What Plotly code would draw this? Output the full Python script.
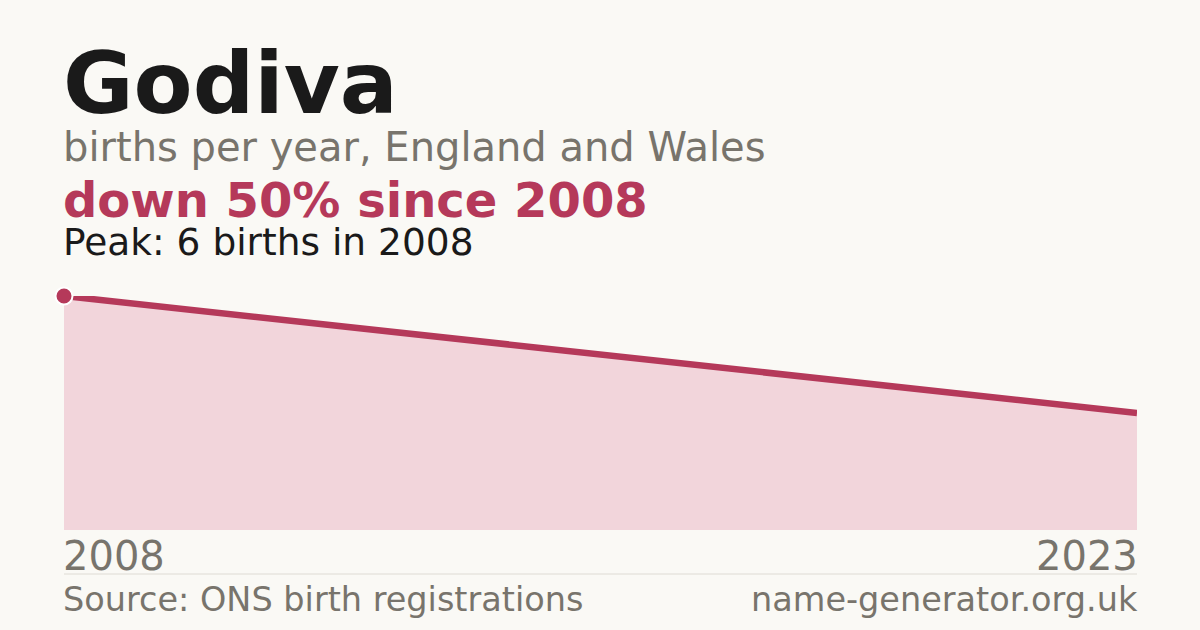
import plotly.graph_objects as go

name = "Godiva"
years = [2008, 2023]
births = [6, 3]

BG = "#faf9f5"
RED = "#b5395a"
FILL = "#f2d5db"
GREY = "#78746c"
INK = "#1a1a1a"
FONT = "DejaVu Sans"

W, H = 1200, 630
L, R, T, B = 64, 63, 296, 100
pw, ph = W - L - R, H - T - B
PAD = 3 / pw  # annotation inner padding, in paper units


def py(y):
    # pixel row -> paper y
    return (H - B - y) / ph


peak = max(births)
peak_year = years[births.index(peak)]
change = round((births[-1] - births[0]) / births[0] * 100)

fig = go.Figure()
fig.add_trace(go.Scatter(
    x=years, y=births, mode="lines",
    line=dict(color=RED, width=6.5),
    fill="tozeroy", fillcolor=FILL,
    hoverinfo="skip", cliponaxis=False,
))
fig.add_trace(go.Scatter(
    x=[peak_year], y=[peak], mode="markers",
    marker=dict(color=RED, size=17, line=dict(color="white", width=2)),
    hoverinfo="skip", cliponaxis=False,
))


def label(text, x, y, size, color, bold=False, anchor="left"):
    fig.add_annotation(
        text=f"<b>{text}</b>" if bold else text,
        xref="paper", yref="paper",
        x=x - PAD if anchor == "left" else x + PAD, y=py(y),
        xanchor=anchor, yanchor="middle", showarrow=False,
        font=dict(family=FONT, size=size, color=color),
    )


label(name, 0, 113 - 0.346 * 86, 86, INK, bold=True)
label("births per year, England and Wales", 0, 161 - 0.346 * 40, 40, GREY)
label(f"down {abs(change)}% since {years[0]}", 0, 216.5 - 0.346 * 48, 48, RED, bold=True)
label(f"Peak: {peak} births in {peak_year}", 0, 255 - 0.346 * 37.5, 37.5, INK)
label(str(years[0]), 0, 570 - 0.346 * 40, 40, GREY)
label(str(years[-1]), 1, 570 - 0.346 * 40, 40, GREY, anchor="right")
label("Source: ONS birth registrations", 0, 611 - 0.346 * 33.5, 33.5, GREY)
label("name-generator.org.uk", 1, 611 - 0.346 * 33.5, 33.5, GREY, anchor="right")

fig.add_shape(type="line", xref="paper", yref="paper",
              x0=0, x1=1, y0=py(574), y1=py(574),
              line=dict(color="#dedbd4", width=1))

fig.update_layout(
    width=W, height=H,
    margin=dict(l=L, r=R, t=T, b=B),
    paper_bgcolor=BG, plot_bgcolor=BG,
    showlegend=False,
    xaxis=dict(range=[years[0], years[-1]], visible=False, fixedrange=True),
    yaxis=dict(range=[0, peak], visible=False, fixedrange=True),
)

fig.write_html(
    "out.html",
    config={"displayModeBar": False},
    post_script="document.body.style.margin='0';document.body.style.background='%s';" % BG,
)
